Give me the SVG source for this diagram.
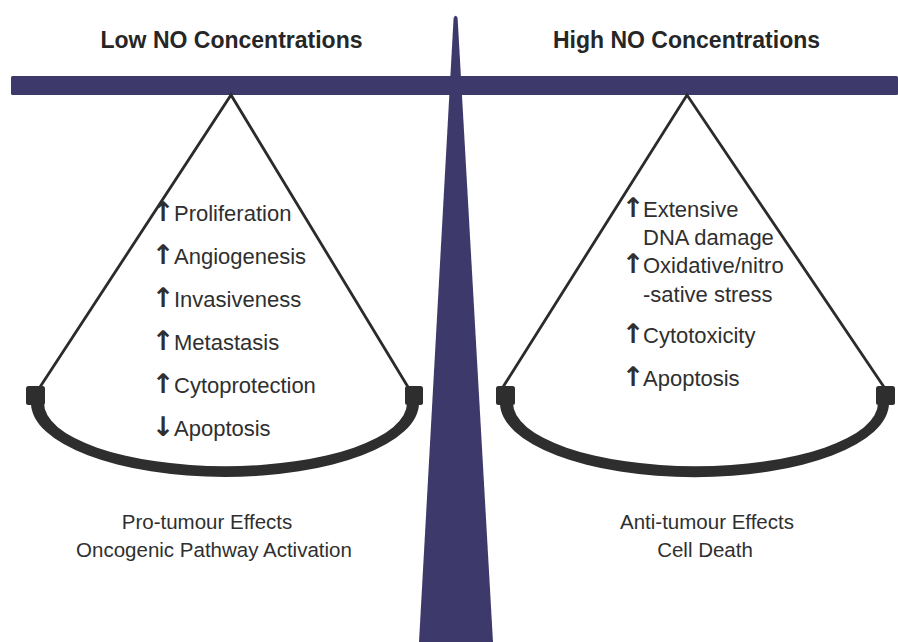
<svg xmlns="http://www.w3.org/2000/svg" width="898" height="642" viewBox="0 0 898 642">
<style>
.navy{fill:#3d3a6b}
.str{fill:none;stroke:#2b2b2b;stroke-width:2.8;stroke-linecap:round}
.blk{fill:#2e2e2e}
.pan{fill:#2e2e2e}
.hd{font-family:"Liberation Sans",Arial,sans-serif;font-weight:bold;font-size:23px;fill:#262626;text-anchor:middle}
.it{font-family:"Liberation Sans",Arial,sans-serif;font-size:22px;fill:#2f2f2f}
.ar{font-family:"DejaVu Sans",sans-serif;font-weight:bold;font-size:27px;fill:#2f2f2f;text-anchor:middle}
.ft{font-family:"Liberation Sans",Arial,sans-serif;font-size:20.5px;fill:#2f2f2f;text-anchor:middle}
</style>
<rect width="898" height="642" fill="#ffffff"/>
<g id="beam">
<rect class="navy" x="11" y="76" width="887" height="19" rx="1.5"/>
<path class="navy" d="M453.6 18 Q455.6 13.5 457.6 18 L493 642 L419 642 Z"/>
</g>
<g id="headers">
<text class="hd" x="231.5" y="48">Low NO Concentrations</text>
<text class="hd" x="686.5" y="48">High NO Concentrations</text>
</g>
<g id="connectors">
<path class="str" d="M40 387 L231 95 L408 387"/>
<path class="str" d="M503 387 L687 95 L884 387"/>
</g>
<g id="left-pan">
<rect class="blk" x="26" y="386" width="19" height="19" rx="2.5"/>
<rect class="blk" x="405" y="386" width="18" height="19" rx="2.5"/>
<path class="pan" d="M31 403 A194 74 0 0 0 419 403 L407 403 A181 63 0 0 1 44 403 Z"/>
</g>
<g id="right-pan">
<rect class="blk" x="496" y="386" width="19" height="19" rx="2.5"/>
<rect class="blk" x="876" y="386" width="19" height="19" rx="2.5"/>
<path class="pan" d="M500 403 A194 74 0 0 0 889 403 L878 403 A182 63 0 0 1 513 403 Z"/>
</g>
<g id="low-list">
<text class="ar" x="163" y="221">↑</text><text class="it" x="174" y="221">Proliferation</text>
<text class="ar" x="163" y="264">↑</text><text class="it" x="174" y="264">Angiogenesis</text>
<text class="ar" x="163" y="307">↑</text><text class="it" x="174" y="307">Invasiveness</text>
<text class="ar" x="163" y="350">↑</text><text class="it" x="174" y="350">Metastasis</text>
<text class="ar" x="163" y="393">↑</text><text class="it" x="174" y="393">Cytoprotection</text>
<text class="ar" x="163" y="436">↓</text><text class="it" x="174" y="436">Apoptosis</text>
</g>
<g id="high-list">
<text class="ar" x="633" y="217">↑</text><text class="it" x="643" y="217">Extensive</text>
<text class="it" x="643" y="245">DNA damage</text>
<text class="ar" x="633" y="273">↑</text><text class="it" x="643" y="273">Oxidative/nitro</text>
<text class="it" x="643" y="302">-sative stress</text>
<text class="ar" x="633" y="343">↑</text><text class="it" x="643" y="343">Cytotoxicity</text>
<text class="ar" x="633" y="386">↑</text><text class="it" x="643" y="386">Apoptosis</text>
</g>
<g id="low-effects">
<text class="ft" x="207" y="529">Pro-tumour Effects</text>
<text class="ft" x="214" y="557">Oncogenic Pathway Activation</text>
</g>
<g id="high-effects">
<text class="ft" x="707" y="529">Anti-tumour Effects</text>
<text class="ft" x="705" y="557">Cell Death</text>
</g>
</svg>
